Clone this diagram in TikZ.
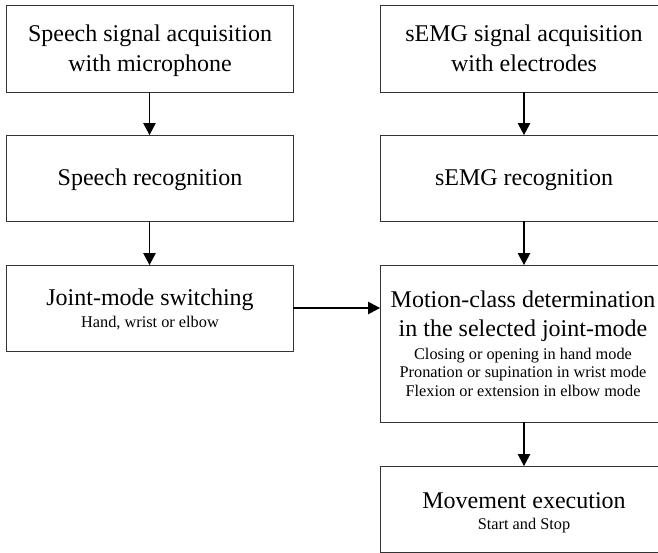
\documentclass[tikz,border=0pt]{standalone}
\usepackage{fontspec}
\setmainfont{Liberation Serif}
\usetikzlibrary{arrows.meta}
\newcommand\largetxt{\fontsize{24}{29}\selectfont}
\newcommand\smalltxt{\fontsize{16.3}{18.5}\selectfont}
\begin{document}
\begin{tikzpicture}[x=1pt,y=-1pt,
  box/.style={draw=black!80,line width=0.9pt,minimum width=287pt,minimum height=86pt,inner sep=0pt,outer sep=0pt,anchor=north west},
  wide/.style={minimum width=288pt},
  big/.style={font=\largetxt,anchor=base,inner sep=0pt},
  small/.style={font=\smalltxt,anchor=base,inner sep=0pt},
  flow/.style={draw=black,line width=1.1pt,-{Triangle[length=12pt,width=12.5pt]}}]
\useasboundingbox (0,0) rectangle (658,552);
\clip (0,0) rectangle (658,552);

% left column: speech channel
\node[box,minimum height=87pt] (sp1) at (6,5) {};
\node[box] (sp2) at (6,135) {};
\node[box] (jm) at (6,265) {};

% right column: sEMG channel
\node[box,wide,minimum height=87pt] (em1) at (380,5) {};
\node[box,wide] (em2) at (380,135) {};
\node[box,wide,minimum height=157pt] (mc) at (380,265) {};
\node[box,wide] (mv) at (380,466) {};

% box texts
\node[big] (t1a) at (150,41) {Speech signal acquisition};
\node[big] (t1b) at (150,71) {with microphone};
\node[big] (t2) at (150,185) {Speech recognition};
\node[big] (t3) at (150,305) {Joint-mode switching};
\node[small] (t3s) at (150,327) {Hand, wrist or elbow};

\node[big] (r1a) at (524,41) {sEMG signal acquisition};
\node[big] (r1b) at (524,71) {with electrodes};
\node[big] (r2) at (524,185) {sEMG recognition};
\node[big] (r3a) at (523,307) {Motion-class determination};
\node[big] (r3b) at (523,336) {in the selected joint-mode};
\node[small] (r3c) at (523,359) {Closing or opening in hand mode};
\node[small] (r3d) at (523,377.5) {Pronation or supination in wrist mode};
\node[small] (r3e) at (523,396) {Flexion or extension in elbow mode};
\node[big] (r4a) at (524,508) {Movement execution};
\node[small] (r4b) at (524,529) {Start and Stop};

% connectors
\draw[flow] (sp1.south) -- (sp2.north);
\draw[flow] (sp2.south) -- (jm.north);
\draw[flow] (em1.south) -- (em2.north);
\draw[flow] (em2.south) -- (mc.north);
\draw[flow] (mc.south) -- (mv.north);
\draw[flow] (jm.east) -- (jm.east -| mc.west);
\end{tikzpicture}
\end{document}
